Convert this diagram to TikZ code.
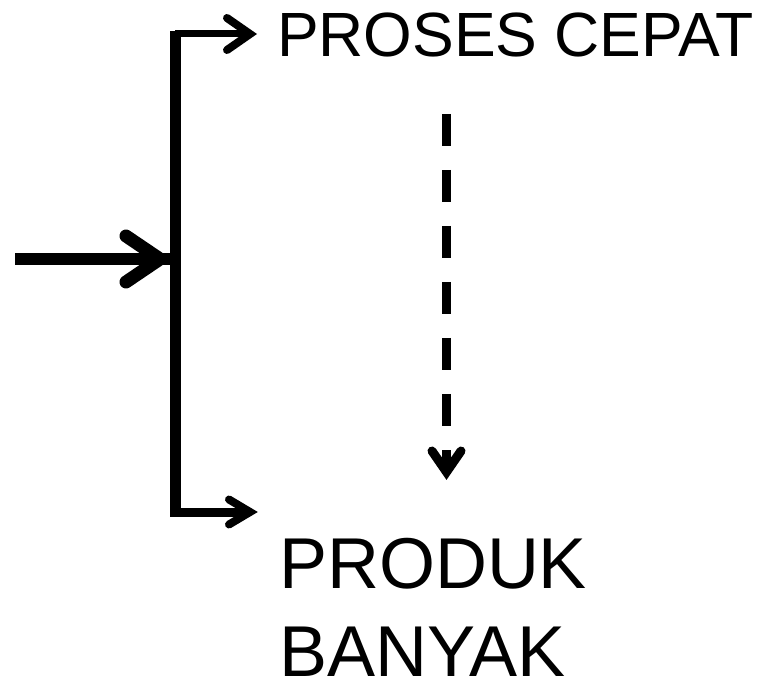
\documentclass[tikz,border=0pt]{standalone}
\usepackage{fontspec}
\setmainfont{Liberation Sans}
\begin{document}
\begin{tikzpicture}[x=1pt,y=-1pt,
  shaft/.style={draw=black,line cap=butt},
  chev/.style={draw=black,line cap=round,line join=miter},
  lbl/.style={inner sep=0pt,outer sep=0pt,anchor=base west}]
\useasboundingbox (0,0) rectangle (771,684);
% text nodes
\node[lbl,font=\fontsize{62.5}{62.5}\selectfont] (proses) at (277,57) {PROSES CEPAT};
\node[lbl,font=\fontsize{72}{88}\selectfont,align=left,text depth=0pt] (produk) at (279,676) {PRODUK\\BANYAK};
% coordinates
\coordinate (start) at (15,259);
\coordinate (join) at (175,259);
\coordinate (bartop) at (175,31);
\coordinate (barbot) at (175,517);
\coordinate (toptip) at (250,34);
\coordinate (bottip) at (250,512);
\coordinate (leftv) at (160,259);
\coordinate (dashtop) at (446.5,114);
\coordinate (dashv) at (446.5,472);
% vertical bar
\draw[shaft,line width=11pt] (bartop) -- (barbot);
% input arrow
\draw[shaft,line width=12pt] (start) -- (join);
\draw[chev,line width=13pt] ([shift={(-34,-23)}]leftv) -- (leftv) -- ([shift={(-34,23)}]leftv);
% top branch
\draw[shaft,line width=7pt] (bartop |- toptip) -- (toptip);
\draw[chev,line width=8pt] ([shift={(-23,-16)}]toptip) -- (toptip) -- ([shift={(-23,16)}]toptip);
% bottom branch
\draw[shaft,line width=9pt] (barbot |- bottip) -- (bottip);
\draw[chev,line width=8pt] ([shift={(-21,-12.5)}]bottip) -- (bottip) -- ([shift={(-21,12.5)}]bottip);
% dashed arrow
\draw[shaft,line width=9pt,dash pattern=on 32pt off 24pt] (dashtop) -- (dashv);
\draw[chev,line width=9pt] ([shift={(-14.5,-21)}]dashv) -- (dashv) -- ([shift={(14.5,-21)}]dashv);
\end{tikzpicture}
\end{document}
